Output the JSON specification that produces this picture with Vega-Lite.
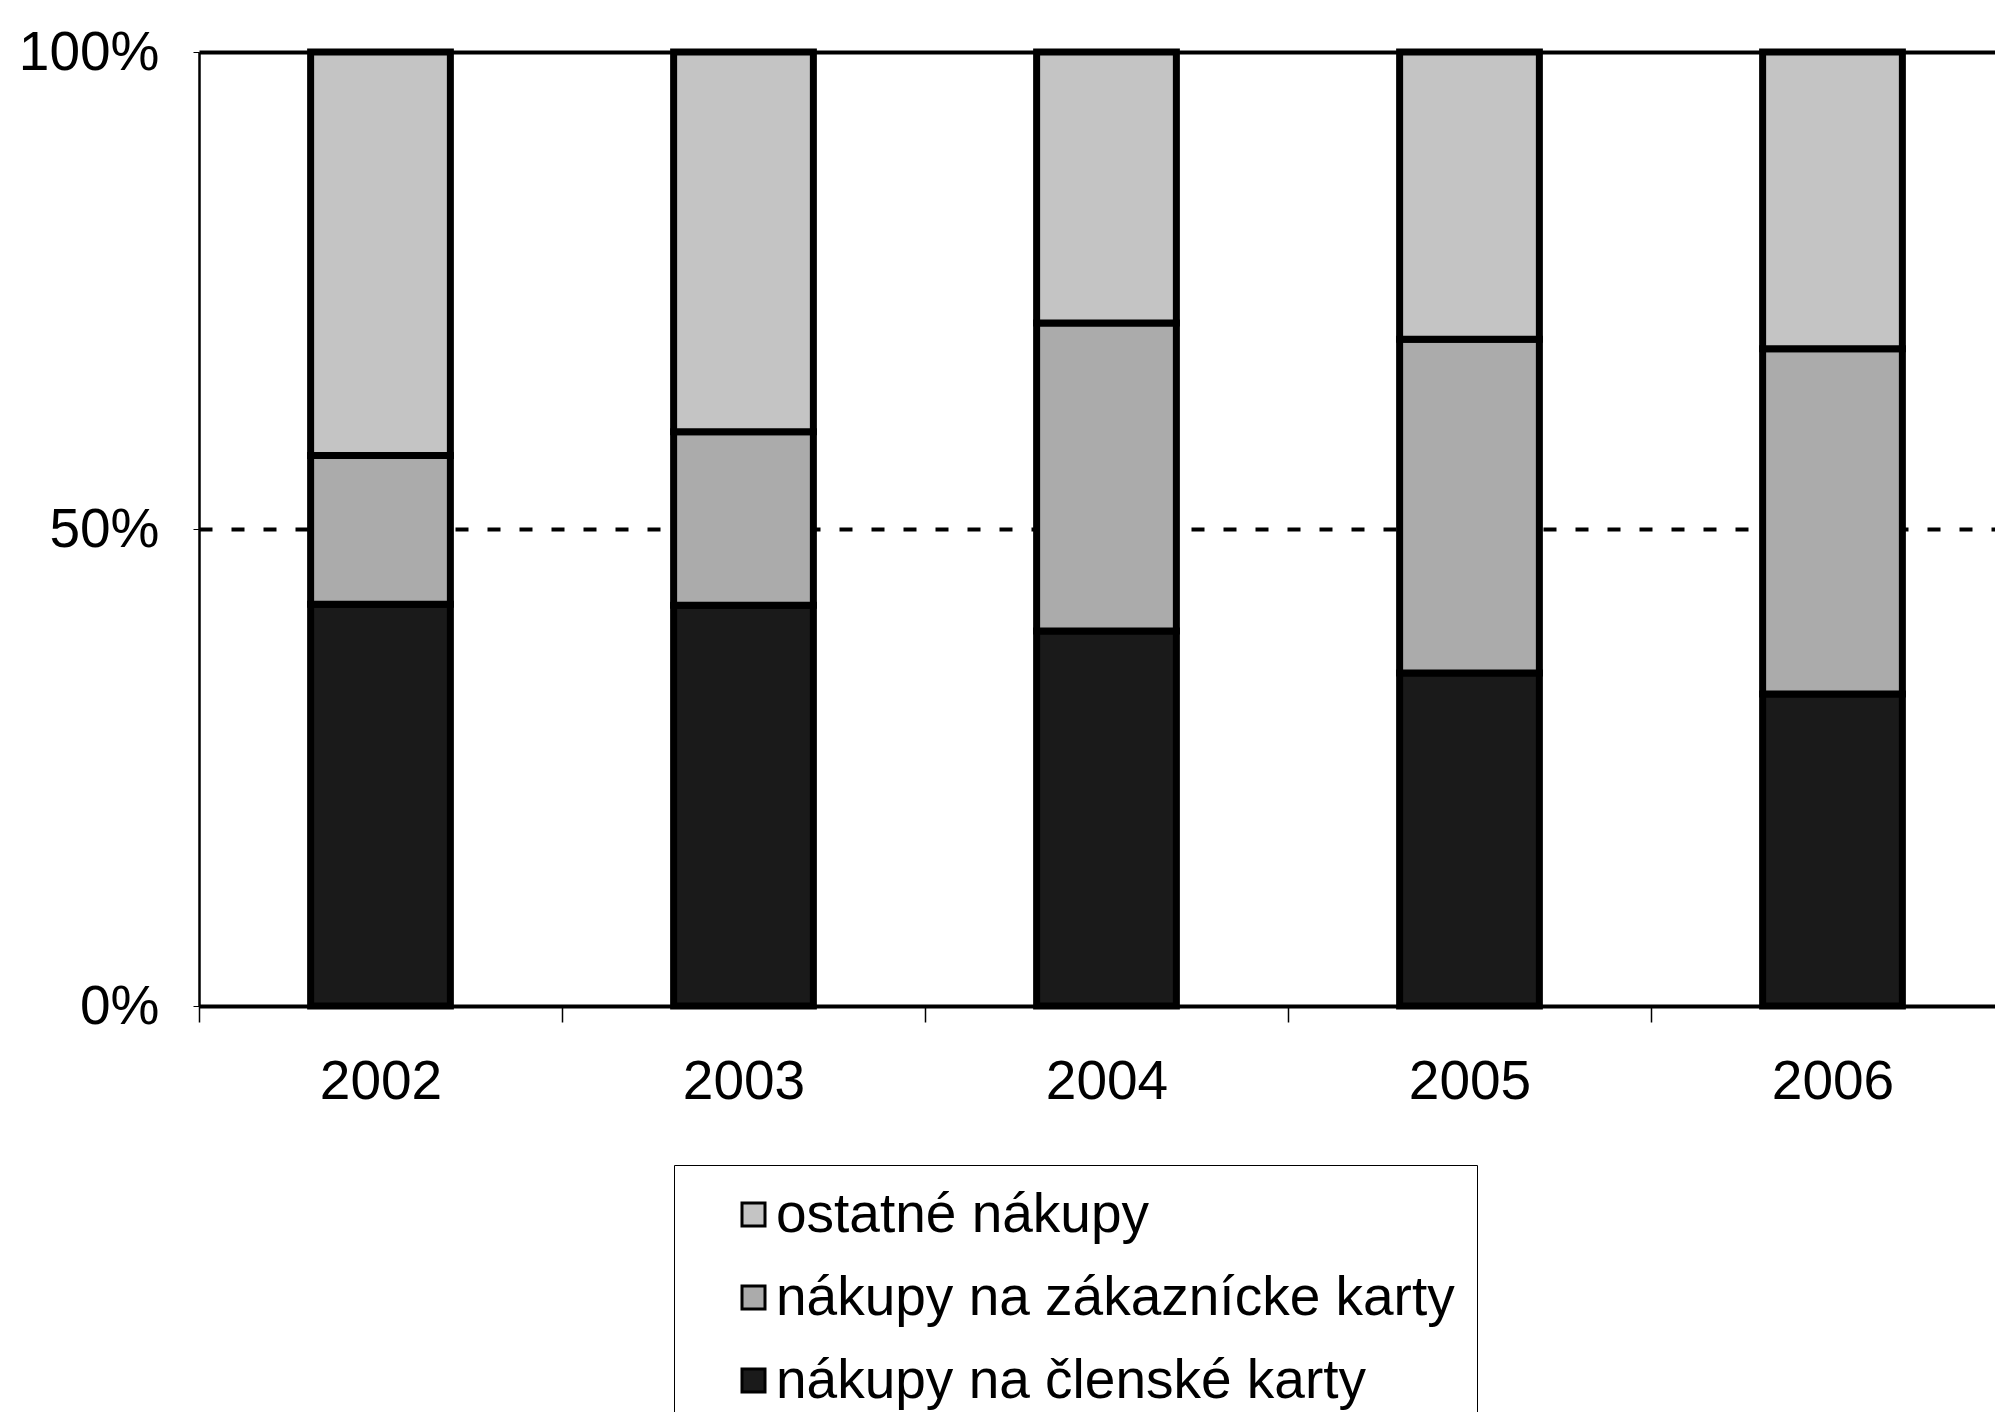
{
  "$schema": "https://vega.github.io/schema/vega-lite/v6.json",
  "width": 1796,
  "height": 954,
  "autosize": {"type": "none"},
  "padding": {"left": 199, "top": 52, "right": 0, "bottom": 406},
  "background": "white",
  "config": {"view": {"stroke": null}, "font": "Liberation Sans"},
  "data": {
    "values": [
      {"year": "2002", "series": "nákupy na členské karty", "k": 1, "share": 42.1},
      {"year": "2002", "series": "nákupy na zákaznícke karty", "k": 2, "share": 15.6},
      {"year": "2002", "series": "ostatné nákupy", "k": 3, "share": 42.3},
      {"year": "2003", "series": "nákupy na členské karty", "k": 1, "share": 42.0},
      {"year": "2003", "series": "nákupy na zákaznícke karty", "k": 2, "share": 18.2},
      {"year": "2003", "series": "ostatné nákupy", "k": 3, "share": 39.8},
      {"year": "2004", "series": "nákupy na členské karty", "k": 1, "share": 39.3},
      {"year": "2004", "series": "nákupy na zákaznícke karty", "k": 2, "share": 32.3},
      {"year": "2004", "series": "ostatné nákupy", "k": 3, "share": 28.4},
      {"year": "2005", "series": "nákupy na členské karty", "k": 1, "share": 34.9},
      {"year": "2005", "series": "nákupy na zákaznícke karty", "k": 2, "share": 35.0},
      {"year": "2005", "series": "ostatné nákupy", "k": 3, "share": 30.1},
      {"year": "2006", "series": "nákupy na členské karty", "k": 1, "share": 32.7},
      {"year": "2006", "series": "nákupy na zákaznícke karty", "k": 2, "share": 36.2},
      {"year": "2006", "series": "ostatné nákupy", "k": 3, "share": 31.1}
    ]
  },
  "mark": {"type": "bar", "stroke": "black", "strokeWidth": 7, "width": {"band": 0.385}},
  "encoding": {
    "x": {
      "field": "year",
      "type": "ordinal",
      "scale": {"range": [0, 1815], "paddingInner": 0, "paddingOuter": 0},
      "axis": {
        "title": null,
        "labelAngle": 0,
        "labelFontSize": 55,
        "labelColor": "black",
        "tickBand": "extent",
        "tickSize": 16,
        "tickColor": "black",
        "tickWidth": 1.5,
        "domainColor": "black",
        "domainWidth": 3,
        "labelPadding": 33,
        "grid": false
      }
    },
    "y": {
      "field": "share",
      "type": "quantitative",
      "stack": "zero",
      "scale": {"domain": [0, 100]},
      "axis": {
        "title": null,
        "values": [0, 50, 100],
        "labelExpr": "datum.value + '%'",
        "labelFontSize": 55,
        "labelColor": "black",
        "labelPadding": 34,
        "tickSize": 6,
        "tickColor": "black",
        "domainColor": "black",
        "domainWidth": 2.5,
        "grid": true,
        "gridColor": "black",
        "gridWidth": {"condition": {"test": "datum.value == 100", "value": 4}, "value": 4},
        "gridDash": {"condition": {"test": "datum.value == 50", "value": [13, 19]}, "value": []}
      }
    },
    "color": {
      "field": "series",
      "type": "nominal",
      "scale": {
        "domain": ["ostatné nákupy", "nákupy na zákaznícke karty", "nákupy na členské karty"],
        "range": ["#c4c4c4", "#ababab", "#1a1a1a"]
      },
      "legend": {
        "orient": "none",
        "legendX": 475,
        "legendY": 1113,
        "title": null,
        "direction": "vertical",
        "labelFontSize": 55,
        "labelColor": "black",
        "labelLimit": 1200,
        "labelOffset": -5,
        "symbolType": "square",
        "symbolSize": 529,
        "symbolStrokeColor": "black",
        "symbolStrokeWidth": 3,
        "symbolOffset": 30,
        "strokeColor": "black",
        "fillColor": "white",
        "padding": 22,
        "rowPadding": 27
      }
    },
    "order": {"field": "k", "type": "quantitative"}
  }
}
